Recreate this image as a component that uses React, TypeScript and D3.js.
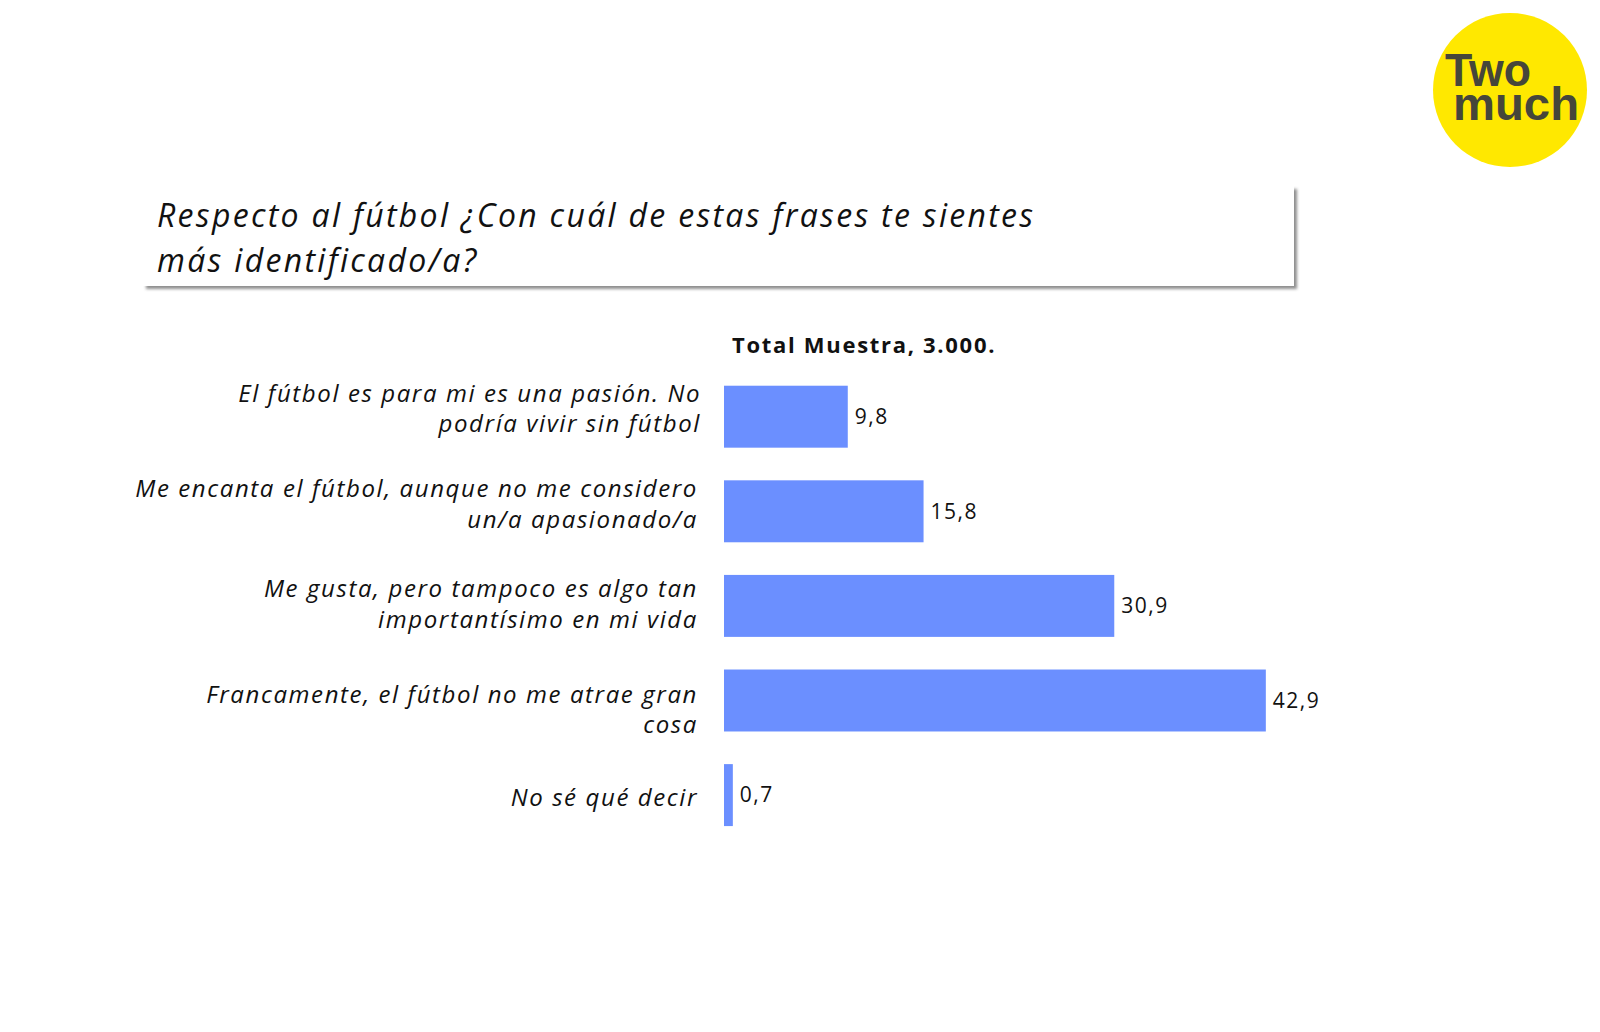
import { useEffect, useRef } from 'react';
import * as d3 from 'd3';

// Survey answers (one entry per bar), split in the lines shown on the slide
const answerLines: string[][] = [
  ['El fútbol es para mi es una pasión. No', 'podría vivir sin fútbol'],
  ['Me encanta el fútbol, aunque no me considero', 'un/a apasionado/a'],
  ['Me gusta, pero tampoco es algo tan', 'importantísimo en mi vida'],
  ['Francamente, el fútbol no me atrae gran', 'cosa'],
  ['No sé qué decir'],
];
const answerKeys = ['pasion', 'encanta', 'gusta', 'noAtrae', 'nsnc'];
const percentages = [9.8, 15.8, 30.9, 42.9, 0.7];

const titleLines = [
  'Respecto al fútbol ¿Con cuál de estas frases te sientes',
  'más identificado/a?',
];
const seriesName = 'Total Muestra, 3.000.';
const logoLines = ['Two', 'much'];

const WIDTH = 1600;
const HEIGHT = 1032;
const BAR_COLOR = '#6b8fff';
const FONT = '"Open Sans", sans-serif';
// small manual nudges of the label blocks, as placed on the original slide
const labelNudge = [-8, -7, -2, 9, 2];

const fmt = (v: number): string => d3.format('.1f')(v).replace('.', ',');

function SurveyChart(): React.JSX.Element {
  const svgRef = useRef<SVGSVGElement>(null);

  useEffect(() => {
    if (!svgRef.current) return;
    const svg = d3.select(svgRef.current);
    svg.selectAll('*').remove();

    const defs = svg.append('defs');
    const shadow = defs.append('filter')
      .attr('id', 'boxShadow')
      .attr('x', '-5%').attr('y', '-20%')
      .attr('width', '110%').attr('height', '140%');
    shadow.append('feDropShadow')
      .attr('dx', 3).attr('dy', 3)
      .attr('stdDeviation', 1.6)
      .attr('flood-color', '#7a7a7a')
      .attr('flood-opacity', 0.85);

    svg.append('rect')
      .attr('width', WIDTH).attr('height', HEIGHT)
      .attr('fill', '#ffffff');

    // Question box
    svg.append('rect')
      .attr('x', 143).attr('y', 186)
      .attr('width', 1151).attr('height', 100)
      .attr('fill', '#ffffff')
      .attr('filter', 'url(#boxShadow)');

    svg.append('g')
      .selectAll('text')
      .data(titleLines)
      .join('text')
      .attr('x', 157)
      .attr('y', (_d, i) => 227 + i * 45)
      .attr('font-family', FONT)
      .attr('font-style', 'italic')
      .attr('font-size', 32)
      .attr('letter-spacing', 2.3)
      .attr('fill', '#111')
      .text(d => d);

    // Logo (one text block, two lines)
    const logo = svg.append('g');
    logo.append('circle')
      .attr('cx', 1510).attr('cy', 90).attr('r', 77)
      .attr('fill', '#ffe800');
    logo.append('text')
      .attr('font-family', '"Liberation Sans", Arial, sans-serif')
      .attr('font-weight', 700)
      .attr('font-size', 46)
      .attr('fill', '#46463a')
      .selectAll('tspan')
      .data(logoLines)
      .join('tspan')
      .attr('x', (_d, i) => (i === 0 ? 1445 : 1453))
      .attr('y', (_d, i) => (i === 0 ? 86 : 120))
      .attr('textLength', (_d, i) => (i === 0 ? 86 : 126))
      .attr('lengthAdjust', 'spacingAndGlyphs')
      .text(d => d);

    // Scales
    const x = d3.scaleLinear().domain([0, 50]).range([724, 724 + 631.5]);
    const y = d3.scaleBand<string>()
      .domain(answerKeys)
      .range([369.4, 842.4])
      .paddingInner(0.345)
      .paddingOuter(0.1725);

    svg.append('text')
      .attr('x', 732)
      .attr('y', 353)
      .attr('font-family', FONT)
      .attr('font-weight', 700)
      .attr('font-size', 22)
      .attr('letter-spacing', 1.7)
      .attr('fill', '#111')
      .text(seriesName);

    const rows = svg.append('g')
      .selectAll('g')
      .data(percentages)
      .join('g');

    rows.append('rect')
      .attr('x', x(0))
      .attr('y', (_d, i) => y(answerKeys[i]) ?? 0)
      .attr('width', d => x(d) - x(0))
      .attr('height', y.bandwidth())
      .attr('fill', BAR_COLOR);

    rows.append('text')
      .attr('x', d => x(d) + 7)
      .attr('y', (_d, i) => (y(answerKeys[i]) ?? 0) + y.bandwidth() / 2)
      .attr('dy', '0.35em')
      .attr('font-family', FONT)
      .attr('font-size', 21)
      .attr('letter-spacing', 1.5)
      .attr('fill', '#111')
      .text(d => fmt(d));

    // Category labels, right aligned next to the bars
    rows.each(function (_d, i) {
      const lines = answerLines[i];
      const cy = (y(answerKeys[i]) ?? 0) + y.bandwidth() / 2 + labelNudge[i];
      const lh = 30.5;
      const first = cy - ((lines.length - 1) * lh) / 2;
      d3.select(this)
        .append('text')
        .attr('text-anchor', 'end')
        .attr('font-family', FONT)
        .attr('font-style', 'italic')
        .attr('font-size', 24)
        .attr('letter-spacing', 1.6)
        .attr('fill', '#111')
        .selectAll('tspan')
        .data(lines)
        .join('tspan')
        .attr('x', i === 0 ? 701 : 698)
        .attr('y', (_l, j) => first + j * lh)
        .attr('dy', '0.35em')
        .text(l => l);
    });
  }, []);

  return <svg ref={svgRef} width={WIDTH} height={HEIGHT} style={{ display: 'block' }} />;
}

export default function App(): React.JSX.Element {
  return (
    <div style={{ position: 'absolute', left: 0, top: 0, width: WIDTH, height: HEIGHT, background: '#fff' }}>
      <SurveyChart />
    </div>
  );
}
